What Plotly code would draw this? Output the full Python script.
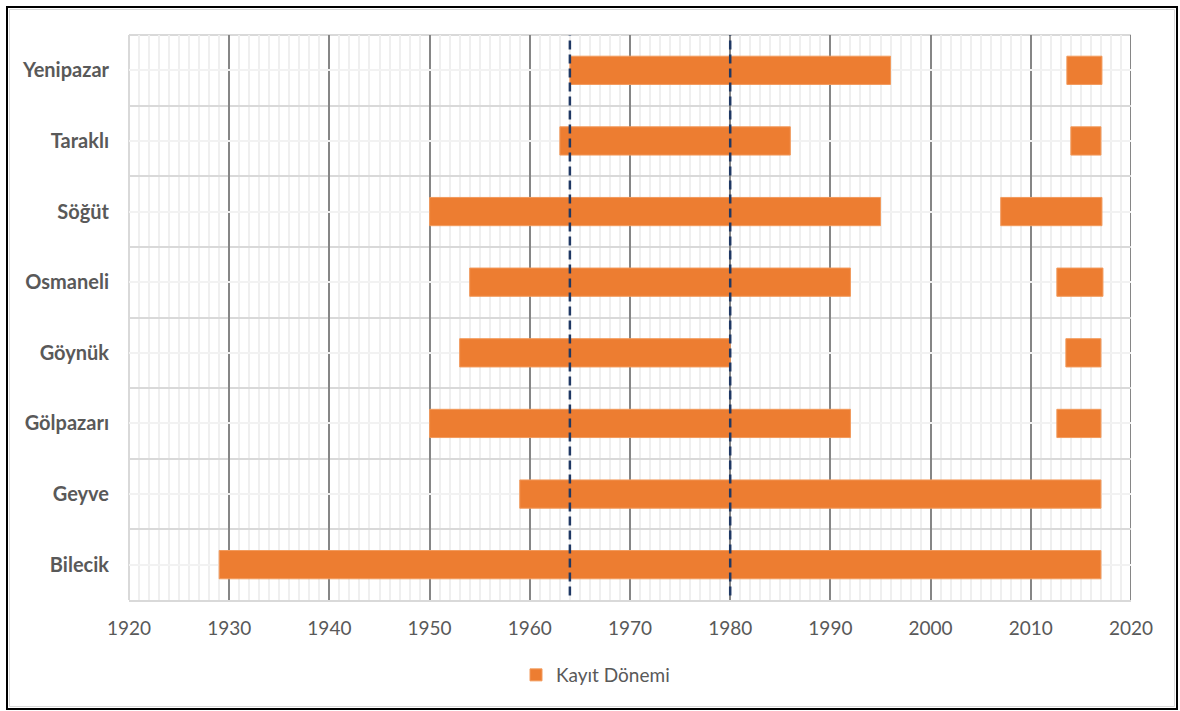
import plotly.graph_objects as go

# ---- data ----
stations = ["Bilecik", "Geyve", "Gölpazarı", "Göynük", "Osmaneli", "Söğüt", "Taraklı", "Yenipazar"]  # bottom -> top
seg_station = ["Bilecik", "Geyve",
               "Gölpazarı", "Gölpazarı",
               "Göynük", "Göynük",
               "Osmaneli", "Osmaneli",
               "Söğüt", "Söğüt",
               "Taraklı", "Taraklı",
               "Yenipazar", "Yenipazar"]
seg_start = [1929, 1959, 1950, 2012.6, 1953, 2013.5, 1954, 2012.6, 1950, 2007, 1963, 2014, 1964, 2013.6]
seg_end = [2017, 2017, 1992, 2017, 1980, 2017, 1992, 2017.2, 1995, 2017.1, 1986, 2017, 1996, 2017.1]
ref_years = [1964, 1980]
x_ticks = list(range(1920, 2021, 10))
x_min, x_max = 1920, 2020
legend_name = "Kayıt Dönemi"

# ---- layout geometry (pixels) ----
W, H = 1180, 711
L, R, T, B = 129, 1131, 35, 600
PW, PH = R - L, B - T


def px_x(p):
    return (p - L) / PW


def px_y(p):
    return (B - p) / PH


ypos = [stations.index(s) for s in seg_station]
dur = [e - s for s, e in zip(seg_start, seg_end)]

fig = go.Figure()
fig.add_trace(go.Bar(
    y=ypos, x=dur, base=seg_start, orientation="h", width=0.4,
    marker=dict(color="#ED7D31", line=dict(color="#F29A5C", width=1)),
    name=legend_name, showlegend=True,
))

shapes = []
# plot-area edges: light left/top, dark right (major grid at 2020)
shapes.append(dict(type="line", xref="paper", yref="paper", x0=0, x1=0, y0=0, y1=1,
                   line=dict(color="#D9D9D9", width=2), layer="below"))
shapes.append(dict(type="line", xref="paper", yref="paper", x0=0, x1=1, y0=1, y1=1,
                   line=dict(color="#D9D9D9", width=2), layer="below"))
shapes.append(dict(type="line", xref="x", yref="paper", x0=x_max, x1=x_max, y0=0, y1=1,
                   line=dict(color="#868686", width=2), layer="below"))
for yr in ref_years:
    shapes.append(dict(type="line", xref="x", yref="paper", x0=yr, x1=yr, y0=0.008, y1=1,
                       line=dict(color="#1F3864", width=2.5, dash="9px,5px"), layer="above"))
# outer chart border
shapes.append(dict(type="rect", xref="paper", yref="paper",
                   x0=px_x(7), x1=px_x(1177), y0=px_y(709), y1=px_y(7),
                   line=dict(color="#000000", width=2), layer="above"))
shapes.append(dict(type="rect", xref="paper", yref="paper",
                   x0=px_x(9.5), x1=px_x(1174.5), y0=px_y(706.5), y1=px_y(9.5),
                   line=dict(color="#D9D9D9", width=1), layer="below"))

fig.update_layout(
    width=W, height=H,
    margin=dict(l=L, r=W - R, t=T, b=H - B, pad=0),
    paper_bgcolor="white", plot_bgcolor="white",
    barmode="overlay",
    font=dict(family="Lato, Open Sans, sans-serif", color="#595959"),
    shapes=shapes,
    showlegend=True,
    legend=dict(orientation="h", x=px_x(516), xanchor="left", y=px_y(675), yanchor="middle",
                font=dict(size=19, color="#595959", family="Lato"),
                itemwidth=30,
                bgcolor="rgba(0,0,0,0)"),
)

fig.update_xaxes(
    range=[x_min, x_max], tickmode="array", tickvals=x_ticks,
    showgrid=True, gridcolor="#868686", gridwidth=2,
    minor=dict(dtick=1, tick0=x_min, showgrid=True, gridcolor="#EFEFEF", gridwidth=2),
    showline=True, linecolor="#D9D9D9", linewidth=2,
    zeroline=False, ticks="", ticklabelstandoff=10,
    tickfont=dict(size=19, color="#595959", family="Lato"),
)
fig.update_yaxes(
    range=[-0.5, len(stations) - 0.5], tickmode="array",
    tickvals=list(range(len(stations))), ticktext=stations,
    showgrid=True, gridcolor="#F2F2F2", gridwidth=2,
    minor=dict(tickmode="array", tickvals=[i - 0.5 for i in range(len(stations) + 1)],
               showgrid=True, gridcolor="#D9D9D9", gridwidth=2),
    showline=False,
    zeroline=False, ticks="", ticklabelstandoff=19,
    tickfont=dict(size=20, color="#595959", family="Lato", weight="bold"),
)

fig.write_html("out.html")
